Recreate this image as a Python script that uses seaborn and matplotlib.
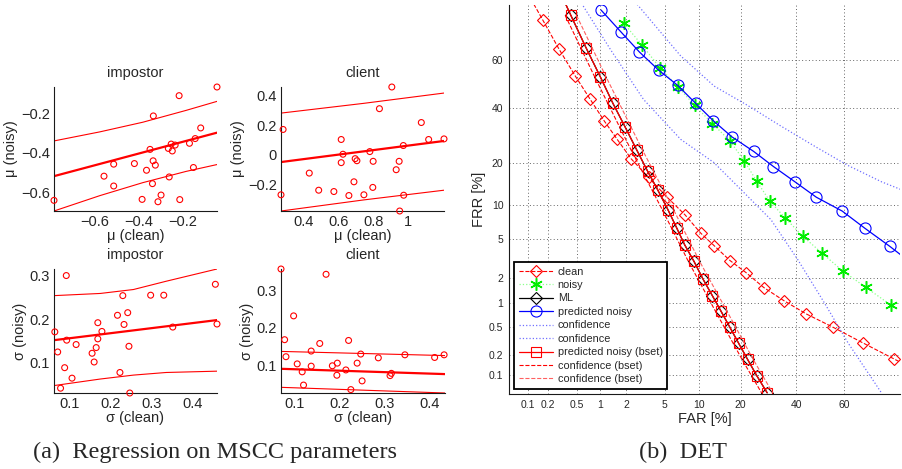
import numpy as np
import matplotlib
matplotlib.use("Agg")
import matplotlib.pyplot as plt
import seaborn as sns
from math import erfc

sns.set_style("white")
plt.rcParams["font.family"] = ["Liberation Sans", "DejaVu Sans"]
plt.rcParams["axes.unicode_minus"] = True

# %% data: (a) regression on MSCC parameters
imp_mu_clean = [-0.785, -0.558, -0.514, -0.514, -0.420, -0.385, -0.365, -0.349, -0.334, -0.335,
                -0.338, -0.325, -0.313, -0.299, -0.266, -0.262, -0.253, -0.248, -0.235, -0.217,
                -0.214, -0.170, -0.152, -0.144, -0.119, -0.045]
imp_mu_noisy = [-0.642, -0.519, -0.458, -0.569, -0.455, -0.637, -0.489, -0.383, -0.213, -0.441,
                -0.557, -0.463, -0.649, -0.615, -0.378, -0.523, -0.356, -0.391, -0.361, -0.110,
                -0.638, -0.352, -0.475, -0.328, -0.274, -0.066]
imp_mu_band_x = [-0.785, -0.577, -0.382, -0.186, -0.045]
imp_mu_upper = [-0.340, -0.294, -0.245, -0.185, -0.139]
imp_mu_lower = [-0.696, -0.618, -0.552, -0.495, -0.460]
imp_mu_fit_x = [-0.785, -0.045]
imp_mu_fit = [-0.519, -0.298]

cli_mu_clean = [0.270, 0.282, 0.432, 0.486, 0.573, 0.615, 0.615, 0.625, 0.659, 0.688,
                0.695, 0.705, 0.745, 0.779, 0.796, 0.798, 0.834, 0.905, 0.930, 0.947,
                0.950, 0.971, 0.973, 1.074, 1.116, 1.204]
cli_mu_noisy = [-0.270, 0.173, -0.123, -0.239, -0.248, 0.105, -0.052, 0.005, -0.275, -0.182,
                -0.025, -0.039, -0.270, 0.023, -0.220, -0.043, 0.314, 0.461, -0.100, -0.043,
                -0.380, 0.064, -0.273, 0.220, 0.105, 0.109]
cli_mu_band_x = [0.270, 0.743, 1.204]
cli_mu_upper = [0.284, 0.350, 0.420]
cli_mu_lower = [-0.380, -0.305, -0.239]
cli_mu_fit_x = [0.270, 1.204]
cli_mu_fit = [-0.048, 0.095]

imp_sig_clean = [0.064, 0.071, 0.078, 0.088, 0.092, 0.093, 0.106, 0.116, 0.155, 0.160,
                 0.165, 0.169, 0.169, 0.179, 0.217, 0.223, 0.230, 0.233, 0.242, 0.245,
                 0.247, 0.298, 0.330, 0.352, 0.456, 0.460]
imp_sig_noisy = [0.171, 0.125, 0.042, 0.089, 0.300, 0.152, 0.065, 0.142, 0.122, 0.102,
                 0.135, 0.192, 0.155, 0.172, 0.209, 0.078, 0.254, 0.188, 0.215, 0.138,
                 0.031, 0.255, 0.255, 0.182, 0.280, 0.189]
imp_sig_band_x = [0.062, 0.175, 0.256, 0.336, 0.460]
imp_sig_upper = [0.254, 0.259, 0.268, 0.287, 0.315]
imp_sig_lower = [0.048, 0.063, 0.072, 0.078, 0.081]
imp_sig_fit_x = [0.062, 0.460]
imp_sig_fit = [0.152, 0.198]

cli_sig_clean = [0.071, 0.079, 0.082, 0.099, 0.107, 0.118, 0.121, 0.138, 0.138, 0.157,
                 0.171, 0.185, 0.196, 0.195, 0.215, 0.221, 0.226, 0.240, 0.248, 0.251,
                 0.287, 0.313, 0.316, 0.346, 0.412, 0.433]
cli_sig_noisy = [0.356, 0.169, 0.124, 0.232, 0.105, 0.084, 0.049, 0.139, 0.099, 0.159,
                 0.342, 0.100, 0.107, 0.075, 0.089, 0.167, 0.037, 0.107, 0.131, 0.060,
                 0.121, 0.074, 0.080, 0.129, 0.122, 0.129]
cli_sig_band_x = [0.071, 0.435]
cli_sig_upper = [0.138, 0.127]
cli_sig_lower = [0.043, 0.028]
cli_sig_fit_x = [0.071, 0.435]
cli_sig_fit = [0.092, 0.078]

# %% data: (b) DET, FAR / FRR in percent
clean_far = [0.093, 0.167, 0.288, 0.479, 0.751, 1.12, 1.59, 2.28, 3.47, 5.21, 7.62, 10.3, 13.1,
             17.0, 21.6, 27.5, 35.0, 44.1, 55.4, 67.2, 78.1, 86.5]
clean_frr = [84.1, 75.3, 64.5, 53.5, 43.6, 34.8, 27.9, 21.4, 16.1, 11.6, 8.28, 5.69, 4.31,
             3.05, 2.27, 1.54, 1.075, 0.734, 0.491, 0.302, 0.177, 0.10]

noisy_far = [1.89, 2.99, 4.49, 6.58, 9.21, 12.7, 17.0, 21.1, 25.1, 29.7, 35.5, 42.7, 50.7,
             59.3, 68.4, 77.2]
noisy_frr = [74.1, 66.0, 57.0, 49.0, 41.1, 33.8, 27.3, 20.7, 15.1, 10.7, 7.77, 5.30, 3.64,
             2.37, 1.55, 0.95]

ml_far = [0.253, 0.418, 0.663, 1.00, 1.42, 1.96, 2.62, 3.39, 4.30, 5.36, 6.44, 7.58, 9.09,
          10.75, 12.7, 14.6, 16.95, 19.4, 22.1, 25.1, 28.7]
ml_frr = [86.3, 76.8, 65.1, 53.2, 41.9, 32.4, 24.2, 17.8, 13.0, 9.13, 6.36, 4.40, 2.99,
          1.92, 1.23, 0.81, 0.491, 0.296, 0.173, 0.0977, 0.0523]

pred_far = [1.02, 1.74, 2.79, 4.36, 6.58, 9.40, 12.9, 17.5, 24.0, 31.0, 39.4, 48.3, 59.1,
            68.1, 76.9, 83.8]
pred_frr = [78.5, 71.2, 63.4, 56.0, 49.5, 41.9, 34.9, 28.8, 23.8, 19.1, 15.0, 11.5, 8.9,
            6.3, 4.24, 2.75]

conf_lo_far = [0.61, 1.32, 3.08, 7.0, 13.0, 22.1, 30.1, 40.6, 51.7, 61.5, 69.4, 74.1]
conf_lo_frr = [79.7, 64.5, 43.6, 27.9, 20.3, 11.7, 7.5, 3.11, 1.01, 0.30, 0.107, 0.052]
conf_hi_far = [2.64, 7.0, 13.1, 22.1, 33.9, 47.6, 61.5, 74.1, 80.5]
conf_hi_frr = [80.2, 61.8, 49.2, 41.1, 32.8, 25.5, 19.4, 15.0, 13.1]

bset_far = ml_far
bset_frr = ml_frr
bset_lo_far = [0.350, 0.851, 2.275, 4.74, 8.15, 13.3, 20.4, 26.7]
bset_lo_frr = [76.8, 53.2, 24.2, 9.13, 2.99, 0.81, 0.173, 0.0523]
bset_hi_far = [0.498, 1.173, 3.01, 6.04, 10.1, 16.1, 23.9, 30.7]
bset_hi_frr = [76.8, 53.2, 24.2, 9.13, 2.99, 0.81, 0.173, 0.0523]

det_ticks = [0.1, 0.2, 0.5, 1, 2, 5, 10, 20, 40, 60]
det_ticklabels = ["0.1", "0.2", "0.5", "1", "2", "5", "10", "20", "40", "60"]

# %% normal deviate scale for the DET axes
_z = np.linspace(-8, 8, 16001)
_p = np.array([0.5 * erfc(-v / np.sqrt(2)) for v in _z])


def to_probit(v):
    return np.interp(np.asarray(v, float) / 100.0, _p, _z)


def from_probit(z):
    return 100.0 * np.interp(np.asarray(z, float), _z, _p)


# %% figure
W, H = 902, 469
fig = plt.figure(figsize=(W / 100, H / 100), dpi=100)


def axes_px(x0, y0, x1, y1):
    return fig.add_axes([x0 / W, 1 - y1 / H, (x1 - x0) / W, (y1 - y0) / H])


def fmt(v):
    return ("%g" % v).replace("-", "\u2212")


panels = [
    ((54, 87, 217, 211), "impostor", "\u03bc (clean)", "\u03bc (noisy)",
     imp_mu_clean, imp_mu_noisy, imp_mu_fit_x, imp_mu_fit, imp_mu_band_x, imp_mu_upper, imp_mu_lower,
     [-0.6, -0.4, -0.2], [-0.6, -0.4, -0.2]),
    ((281, 87, 444, 211), "client", "\u03bc (clean)", "\u03bc (noisy)",
     cli_mu_clean, cli_mu_noisy, cli_mu_fit_x, cli_mu_fit, cli_mu_band_x, cli_mu_upper, cli_mu_lower,
     [0.4, 0.6, 0.8, 1], [-0.2, 0, 0.2, 0.4]),
    ((54, 269, 217, 393), "impostor", "\u03c3 (clean)", "\u03c3 (noisy)",
     imp_sig_clean, imp_sig_noisy, imp_sig_fit_x, imp_sig_fit, imp_sig_band_x, imp_sig_upper, imp_sig_lower,
     [0.1, 0.2, 0.3, 0.4], [0.1, 0.2, 0.3]),
    ((281, 269, 445, 393), "client", "\u03c3 (clean)", "\u03c3 (noisy)",
     cli_sig_clean, cli_sig_noisy, cli_sig_fit_x, cli_sig_fit, cli_sig_band_x, cli_sig_upper, cli_sig_lower,
     [0.1, 0.2, 0.3, 0.4], [0.1, 0.2, 0.3]),
]

for box, title, xl, yl, xs, ys, fx, fy, bx, bu, bl, xt, yt in panels:
    ax = axes_px(*box)
    sns.lineplot(x=bx, y=bu, ax=ax, color="red", lw=0.8, sort=False, estimator=None)
    sns.lineplot(x=bx, y=bl, ax=ax, color="red", lw=0.8, sort=False, estimator=None)
    sns.lineplot(x=fx, y=fy, ax=ax, color="red", lw=1.6, sort=False, estimator=None)
    sns.scatterplot(x=xs, y=ys, ax=ax, marker="o", s=18, facecolor="none",
                    edgecolor="red", linewidth=0.8, clip_on=False, zorder=3)
    ax.margins(0)
    ax.set_xticks(xt)
    ax.set_yticks(yt)
    ax.set_xticklabels([fmt(v) for v in xt])
    ax.set_yticklabels([fmt(v) for v in yt])
    ax.tick_params(direction="in", length=3, width=0.6, labelsize=10.5,
                   colors="0.15", pad=3)
    ax.set_title(title, fontsize=10.5, color="0.15", pad=7)
    ax.set_xlabel(xl, fontsize=10.5, color="0.15", labelpad=0)
    ax.set_ylabel(yl, fontsize=10.5, color="0.15", labelpad=2)
    for side in ["top", "right"]:
        ax.spines[side].set_visible(False)
    for side in ["left", "bottom"]:
        ax.spines[side].set_color("0.1")
        ax.spines[side].set_linewidth(0.8)

# %% DET
det = axes_px(509, 5, 900, 394)
det.set_xscale("function", functions=(to_probit, from_probit))
det.set_yscale("function", functions=(to_probit, from_probit))

line_kw = dict(ax=det, sort=False, estimator=None)
sns.lineplot(x=clean_far, y=clean_frr, color="red", ls="--", lw=0.8, marker="D", ms=6.5,
             mfc="none", mec="red", mew=0.8, label="clean", **line_kw)
sns.lineplot(x=noisy_far, y=noisy_frr, color="#8cff8c", ls=":", lw=0.9, marker=(6, 2, 0), ms=9,
             mec="#00ee00", mew=1.1, label="noisy", **line_kw)
sns.lineplot(x=ml_far, y=ml_frr, color="black", lw=0.9, marker="D", ms=6.5,
             mfc="none", mec="black", mew=0.8, label="ML", **line_kw)
sns.lineplot(x=pred_far, y=pred_frr, color="blue", lw=0.9, marker="o", ms=8,
             mfc="none", mec="blue", mew=0.8, label="predicted noisy", **line_kw)
sns.lineplot(x=conf_hi_far, y=conf_hi_frr, color="#7070ff", ls=":", lw=0.9,
             label="confidence", **line_kw)
sns.lineplot(x=conf_lo_far, y=conf_lo_frr, color="#7070ff", ls=":", lw=0.9,
             label="confidence", **line_kw)
sns.lineplot(x=bset_far, y=bset_frr, color="red", lw=0.9, marker="s", ms=7,
             mfc="none", mec="red", mew=0.8, label="predicted noisy (bset)", **line_kw)
sns.lineplot(x=bset_lo_far, y=bset_lo_frr, color="red", ls="--", lw=0.8,
             label="confidence (bset)", **line_kw)
sns.lineplot(x=bset_hi_far, y=bset_hi_frr, color="#ff6060", ls="--", lw=0.8,
             label="confidence (bset)", **line_kw)

det.set_xlim(0.05, 80)
det.set_ylim(0.05, 80)
det.set_xticks(det_ticks)
det.set_yticks(det_ticks)
det.set_xticklabels(det_ticklabels)
det.set_yticklabels(det_ticklabels)
det.minorticks_off()
det.grid(True, ls=(0, (1, 2.5)), color="0.4", lw=0.7)
det.tick_params(direction="in", length=2, labelsize=7.5, colors="0.15", pad=4)
det.set_xlabel("FAR [%]", fontsize=10.5, color="0.15", labelpad=2)
det.set_ylabel("FRR [%]", fontsize=10.5, color="0.15", labelpad=2)
for side in ["top", "right"]:
    det.spines[side].set_visible(False)
for side in ["left", "bottom"]:
    det.spines[side].set_color("0.1")
    det.spines[side].set_linewidth(0.8)

leg = det.legend(loc="lower left", fontsize=7.8, frameon=True, fancybox=False,
                 edgecolor="black", handlelength=3.2, handletextpad=0.4,
                 labelspacing=0.32, borderpad=0.4, borderaxespad=0.5, framealpha=1)
leg.get_frame().set_linewidth(1.3)

# %% captions
fig.text(215 / W, 1 - 452 / H, "(a)  Regression on MSCC parameters", ha="center", va="center",
         family="Liberation Serif", fontsize=17.5)
fig.text(683 / W, 1 - 452 / H, "(b)  DET", ha="center", va="center",
         family="Liberation Serif", fontsize=17.5)

fig.savefig("out.png", dpi=100)
